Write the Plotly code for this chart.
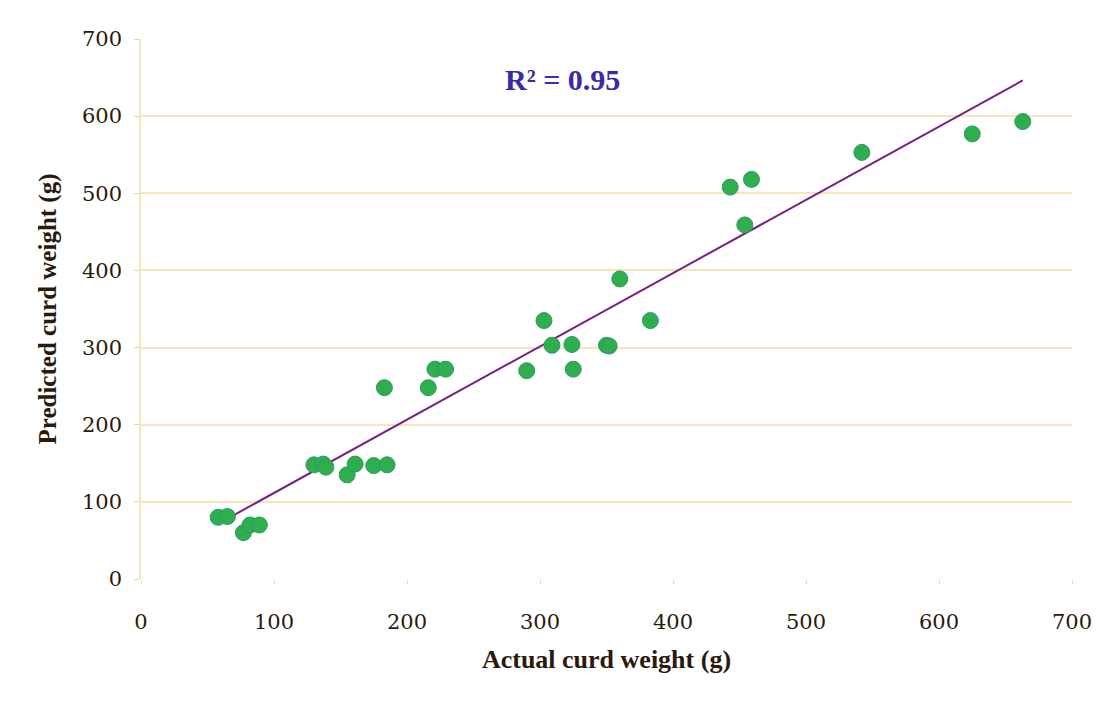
import plotly.graph_objects as go
import numpy as np

actual_g = [58, 65, 77, 82, 89, 130, 137, 139, 155, 161, 175, 185, 183, 216, 221, 229,
            290, 303, 309, 324, 325, 350, 352, 360, 383, 443, 459, 454, 542, 625, 663]
predicted_g = [80, 81, 60, 70, 70, 148, 149, 145, 135, 149, 147, 148, 248, 248, 272, 272,
               270, 335, 303, 304, 272, 303, 302, 389, 335, 508, 518, 459, 553, 577, 593]

trend_slope = 0.95
trend_intercept = 16.5
r2_label = "R² = 0.95"

x_ticks = [0, 100, 200, 300, 400, 500, 600, 700]
y_ticks = [0, 100, 200, 300, 400, 500, 600, 700]

tx = np.array([min(actual_g), max(actual_g)], dtype=float)
ty = trend_slope * tx + trend_intercept

fig = go.Figure()
fig.add_trace(go.Scatter(
    x=tx, y=ty, mode="lines",
    line=dict(color="#7a1f86", width=2),
    showlegend=False, hoverinfo="skip"))
fig.add_trace(go.Scatter(
    x=actual_g, y=predicted_g, mode="markers",
    marker=dict(size=16, color="#2fae4e", line=dict(color="#2a9a6a", width=1)),
    showlegend=False))

tick_family = "DejaVu Serif"
title_family = "Liberation Serif"
dark = "#2a1a0c"
fig.update_layout(
    width=1084, height=688,
    paper_bgcolor="white", plot_bgcolor="white",
    margin=dict(l=133, r=20, t=31, b=117, autoexpand=False),
    font=dict(family=title_family, color=dark),
    annotations=[dict(
        x=317, y=648, xref="x", yref="y", text="<b>" + r2_label + "</b>",
        showarrow=False, font=dict(family=title_family, size=30, color="#3b2aa6"))],
)
fig.update_xaxes(
    range=[0, 700], tickvals=x_ticks, showgrid=False, zeroline=False,
    showline=False, ticks="outside", ticklen=4, tickcolor="#f0d8a0",
    tickfont=dict(size=21, family=tick_family, color=dark),
    ticklabelstandoff=20, ticklabeloverflow="allow", automargin=False,
    title=dict(text="<b>Actual curd weight (g)</b>",
               font=dict(size=26, family=title_family, color=dark), standoff=16),
)
fig.update_yaxes(
    range=[0, 700], tickvals=y_ticks, showgrid=True, gridcolor="#f7e6b4", gridwidth=1.5,
    zeroline=False, showline=True, linecolor="#f3e6b8", linewidth=1.5,
    ticks="outside", ticklen=5, tickcolor="#e8d8a8",
    tickfont=dict(size=21, family=tick_family, color=dark),
    ticklabelstandoff=8,
    title=dict(text="<b>Predicted curd weight (g)</b>",
               font=dict(size=25, family=title_family, color=dark), standoff=18),
)

fig.write_html("out.html")
